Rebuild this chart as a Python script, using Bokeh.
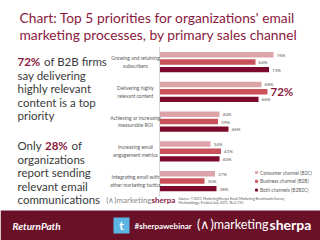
from bokeh.plotting import figure
from bokeh.models import Range1d
from bokeh.core.properties import value
from bokeh.embed import file_html
from bokeh.resources import INLINE

# ---- data ----
categories = ["Growing and retaining\nsubscribers",
              "Delivering highly\nrelevant content",
              "Achieving or increasing\nmeasurable ROI",
              "Increasing email\nengagement metrics",
              "Integrating email with\nother marketing tactics"]
series = ["Consumer channel (B2C)", "Business channel (B2B)", "Both channels (B2B2C)"]
b2c = [76, 68, 40, 34, 37]
b2b = [64, 72, 39, 41, 30]
both = [73, 66, 46, 40, 38]
highlight_cat = 1  # B2B "Delivering highly relevant content" shown large

colors = ["#dca4a9", "#c9525a", "#7d0a2c"]
maroon = "#8a1a3e"
footer_col = "#6a1128"
gray_txt = "#5a5a5a"
FONT = value("Lato")

# ---- figure: whole canvas is the frame ----
W, H = 320, 240
X0, PXPCT = 159.0, 1.5          # x pixel of 0 %, pixels per percent
Y0, PITCH = 61.5, 29.75         # pixel of first group centre, group pitch
p = figure(width=W, height=H, output_backend="svg", toolbar_location=None,
           x_axis_type=None, y_axis_type=None, min_border=0,
           x_range=Range1d(-X0 / PXPCT, (W - X0) / PXPCT),
           y_range=Range1d((H - Y0) / PITCH, -Y0 / PITCH))
p.outline_line_color = None
p.xgrid.visible = False
p.ygrid.visible = False
p.background_fill_color = "white"
p.border_fill_color = "white"
p.extra_x_ranges = {"px": Range1d(0, W)}
p.extra_y_ranges = {"px": Range1d(H, 0)}

def ptext(x, y, t, size, color, style="normal", align="left", baseline="middle", font=FONT):
    p.text(x=[x], y=[y], text=[t], text_font=font, text_font_size=size,
           text_color=color, text_font_style=style, text_align=align,
           text_baseline=baseline, x_range_name="px", y_range_name="px")

# ---- bars ----
idx = list(range(len(categories)))
offsets = [-0.245, 0.0, 0.255]
bar_h = 0.18
for s, (vals, col, off) in enumerate(zip([b2c, b2b, both], colors, offsets)):
    ys = [i + off for i in idx]
    p.hbar(y=ys, left=0, right=vals, height=bar_h, color=col, line_color=None)
    lab_x, lab_y, lab_t = [], [], []
    for i, v in enumerate(vals):
        if s == 1 and i == highlight_cat:
            p.text(x=[v + 2], y=[i + off], text=[f"{v}%"], text_font=FONT,
                   text_font_size="11.5px", text_font_style="bold", text_color=maroon,
                   text_baseline="middle")
        else:
            lab_x.append(v + 2); lab_y.append(i + off); lab_t.append(f"{v}%")
    p.text(x=lab_x, y=lab_y, text=lab_t, text_font=FONT, text_font_size="4.6px",
           text_color=gray_txt, text_baseline="middle")

# axis line
p.segment(x0=[0], y0=[-0.5], x1=[0], y1=[len(categories) - 0.5], line_color="#d8d8d8", line_width=1)

# category labels (centred, two lines)
p.text(x=[-16] * len(categories), y=idx, text=categories, text_font=FONT,
       text_font_size="5px", text_color=gray_txt, text_align="center",
       text_baseline="middle", text_line_height=1.3)

# legend
for k, (name, col) in enumerate(zip(series, colors)):
    ly = 172 + 8.8 * k
    p.rect(x=[256], y=[ly], width=2, height=2, color=col, x_range_name="px", y_range_name="px")
    ptext(259.5, ly, name, "4.8px", gray_txt)

# ---- title ----
ptext(19, 17, "Chart: Top 5 priorities for organizations' email", "13.8px", maroon)
ptext(19, 34, "marketing processes, by primary sales channel", "13.8px", maroon)

# ---- left commentary ----
LS = "11.5px"
LH = 13.5
dark = "#3a3a3a"
ptext(17, 61, "72%", LS, maroon, "bold")
ptext(43.5, 61, "of B2B firms", LS, dark)
for j, t in enumerate(["say delivering", "highly relevant", "content is a top", "priority"]):
    ptext(17, 61 + LH * (j + 1), t, LS, dark)
ptext(17, 145, "Only", LS, dark)
ptext(44.5, 145, "28%", LS, maroon, "bold")
ptext(71, 145, "of", LS, dark)
for j, t in enumerate(["organizations", "report sending", "relevant email", "communications"]):
    ptext(17, 145 + LH * (j + 1), t, LS, dark)

# ---- source + small logo ----
ptext(151, 199, "(\u2227)marketing", "8px", "#8a8a8a", align="right")
ptext(151, 199, "sherpa", "8px", maroon, "bold")
ptext(178, 198, "Source: \u00a92011 MarketingSherpa Email Marketing Benchmark Survey", "3.5px", gray_txt)
ptext(178, 202.5, "Methodology: Fielded July 2011, N=2,735", "3.5px", gray_txt)

# ---- footer band ----
p.quad(left=[0], right=[W], top=[210], bottom=[H], color=footer_col, line_color=None,
       x_range_name="px", y_range_name="px")
ptext(12, 225, "ReturnPath", "10px", "white", "bold italic")
p.quad(left=[113], right=[129], top=[217], bottom=[233], color="#5cb6e4", line_color=None,
       x_range_name="px", y_range_name="px")
ptext(121, 225, "t", "12px", "white", "bold", align="center")
ptext(134, 225, "#sherpawebinar", "8px", "white", "bold")
ptext(268, 224, "(\u2227)marketing", "12.5px", "white", align="right")
ptext(269, 224, "sherpa", "14px", "white", "bold")

open("out.html", "w").write(file_html(p, INLINE))
